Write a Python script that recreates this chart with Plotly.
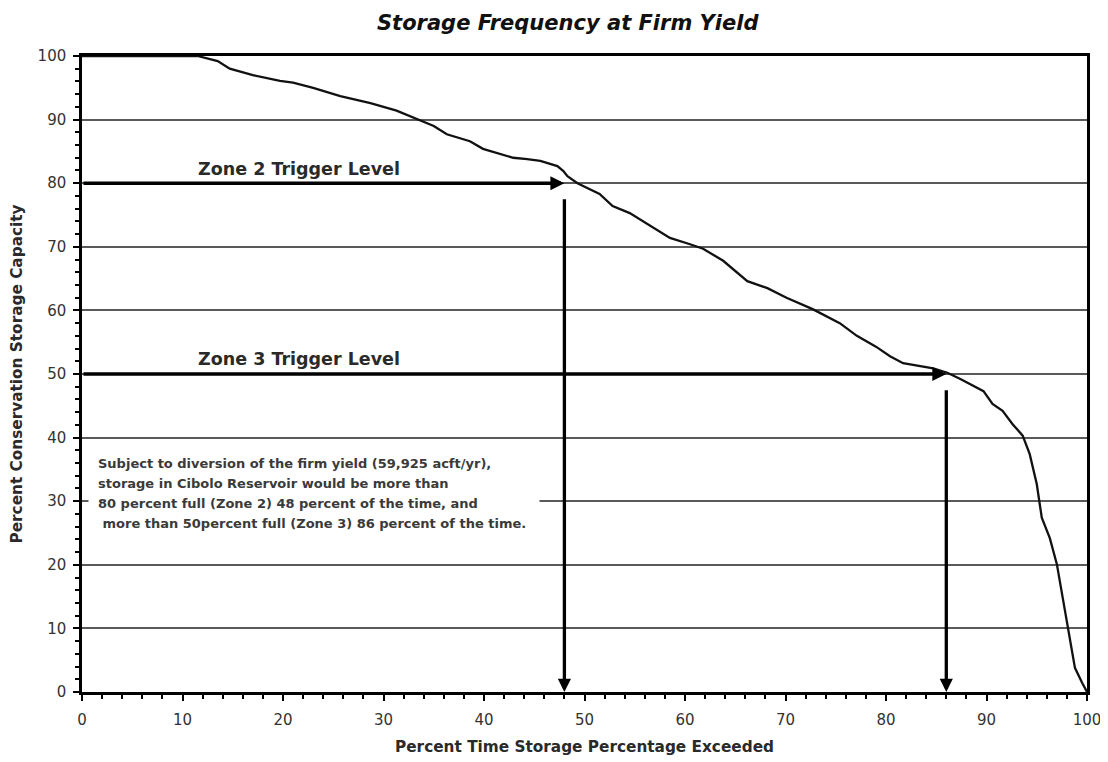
import plotly.graph_objects as go

# ---- data ----
pct_exceeded = [0, 11.5, 13.5, 14.7, 17, 19.7, 21, 23, 25.7, 28.7, 31.3, 33.3, 35, 36.3,
                38.6, 39.9, 42.9, 44.3, 45.6, 47.3, 47.9, 48.3, 49.3, 51.5, 52.8, 54.5,
                56.5, 58.5, 60.5, 61.8, 63.8, 66.2, 68.2, 70.1, 72.7, 75.4, 77.1, 79,
                80.4, 81.7, 84.7, 86.1, 87.4, 89.7, 90.6, 91.6, 92.6, 93.6, 94.3, 95.0,
                95.5, 96.3, 97.0, 98.0, 98.8, 99.5, 100]
storage_pct = [100, 100, 99.2, 98.0, 97.0, 96.1, 95.8, 95.0, 93.7, 92.6, 91.4, 90.1, 89.0, 87.7,
               86.6, 85.4, 84.0, 83.8, 83.5, 82.7, 81.9, 81.1, 80.0, 78.3, 76.4, 75.3,
               73.3, 71.4, 70.4, 69.7, 67.8, 64.6, 63.5, 62.0, 60.2, 58.0, 56.0, 54.3,
               52.8, 51.7, 50.9, 50.2, 49.2, 47.3, 45.3, 44.2, 42.1, 40.3, 37.4, 32.7,
               27.4, 24.2, 20.1, 10.7, 3.8, 1.5, 0]

zone_names = ["Zone 2 Trigger Level", "Zone 3 Trigger Level"]
zone_levels = [80, 50]
zone_exceed = [48, 86]

x_ticks = [0, 10, 20, 30, 40, 50, 60, 70, 80, 90, 100]
y_ticks = [0, 10, 20, 30, 40, 50, 60, 70, 80, 90, 100]

note_lines = [
    "Subject to diversion of the firm yield (59,925 acft/yr),",
    "storage in Cibolo Reservoir would be more than",
    "80 percent full (Zone 2) 48 percent of the time, and",
    "&nbsp;more than 50percent full (Zone 3) 86 percent of the time.",
]

FONT = "DejaVu Sans, Verdana, sans-serif"

fig = go.Figure()
fig.add_trace(go.Scatter(x=pct_exceeded, y=storage_pct, mode="lines",
                         line=dict(color="#111111", width=2.3), showlegend=False,
                         hoverinfo="skip"))

annotations = []
for name, lvl, exc in zip(zone_names, zone_levels, zone_exceed):
    # horizontal arrow from y-axis to curve
    annotations.append(dict(x=exc, y=lvl, ax=0, ay=lvl, xref="x", yref="y",
                            axref="x", ayref="y", text="", showarrow=True,
                            arrowhead=2, arrowsize=0.8, arrowwidth=3.5,
                            arrowcolor="#000000", standoff=0))
    # vertical arrow from below curve down to x-axis
    annotations.append(dict(x=exc, y=0, ax=exc, ay=lvl - 2.3, xref="x", yref="y",
                            axref="x", ayref="y", text="", showarrow=True,
                            arrowhead=2, arrowsize=0.8, arrowwidth=3.3,
                            arrowcolor="#000000", standoff=0))
    annotations.append(dict(x=21.6, y=lvl + 2.3, xref="x", yref="y", text="<b>%s</b>" % name,
                            showarrow=False, font=dict(family=FONT, size=17.5, color="#2a2a2a")))

# white box behind the note (hides the 30 % grid line)
annotations.append(dict(x=23.1, y=31.4, xref="x", yref="y", text=" ", showarrow=False,
                        width=450, height=86, bgcolor="#ffffff", borderpad=0))
for i, line in enumerate(note_lines):
    annotations.append(dict(x=1.4, y=36.0 - 3.17 * i, xref="x", yref="y", xanchor="left",
                            yanchor="middle", align="left", text="<b>%s</b>" % line,
                            showarrow=False,
                            font=dict(family=FONT, size=13, color="#3a3a3a")))

annotations.append(dict(x=(568 - 82) / 1005, xref="paper", y=(691 - 22) / 636, yref="paper",
                        xanchor="center", yanchor="middle", showarrow=False,
                        text="<b><i>Storage Frequency at Firm Yield</i></b>",
                        font=dict(family=FONT, size=21, color="#111111")))

fig.update_layout(
    width=1100, height=754,
    margin=dict(l=74, r=21, t=48, b=70, autoexpand=False),
    paper_bgcolor="#ffffff", plot_bgcolor="#ffffff",
    annotations=annotations,
    xaxis=dict(range=[0, 100], tickvals=x_ticks, ticks="outside", ticklen=6, tickwidth=1.5,
               tickcolor="#000", showgrid=False, zeroline=False, automargin=False,
               showline=True, linewidth=2.5, linecolor="#000", mirror=True,
               ticklabelstandoff=6,
               minor=dict(dtick=2, ticks="outside", ticklen=4, tickcolor="#000", tickwidth=1.5),
               tickfont=dict(family=FONT, size=15, color="#333333"),
               title=dict(text="<b>Percent Time Storage Percentage Exceeded</b>", standoff=14,
                          font=dict(family=FONT, size=15.3, color="#2a2a2a"))),
    yaxis=dict(range=[0, 100], tickvals=y_ticks, ticks="outside", ticklen=6, tickwidth=1.5,
               tickcolor="#000", showgrid=True, gridcolor="#5a5a5a", gridwidth=2,
               zeroline=False, showline=True, linewidth=2.5, linecolor="#000", mirror=True,
               automargin=False, ticklabelstandoff=4,
               minor=dict(dtick=2, ticks="outside", ticklen=4, tickcolor="#000", tickwidth=1.5,
                          showgrid=False),
               tickfont=dict(family=FONT, size=15, color="#333333"),
               title=dict(text="<b>Percent Conservation Storage Capacity</b>", standoff=14,
                          font=dict(family=FONT, size=15.3, color="#2a2a2a"))),
)

fig.write_html("out.html")
